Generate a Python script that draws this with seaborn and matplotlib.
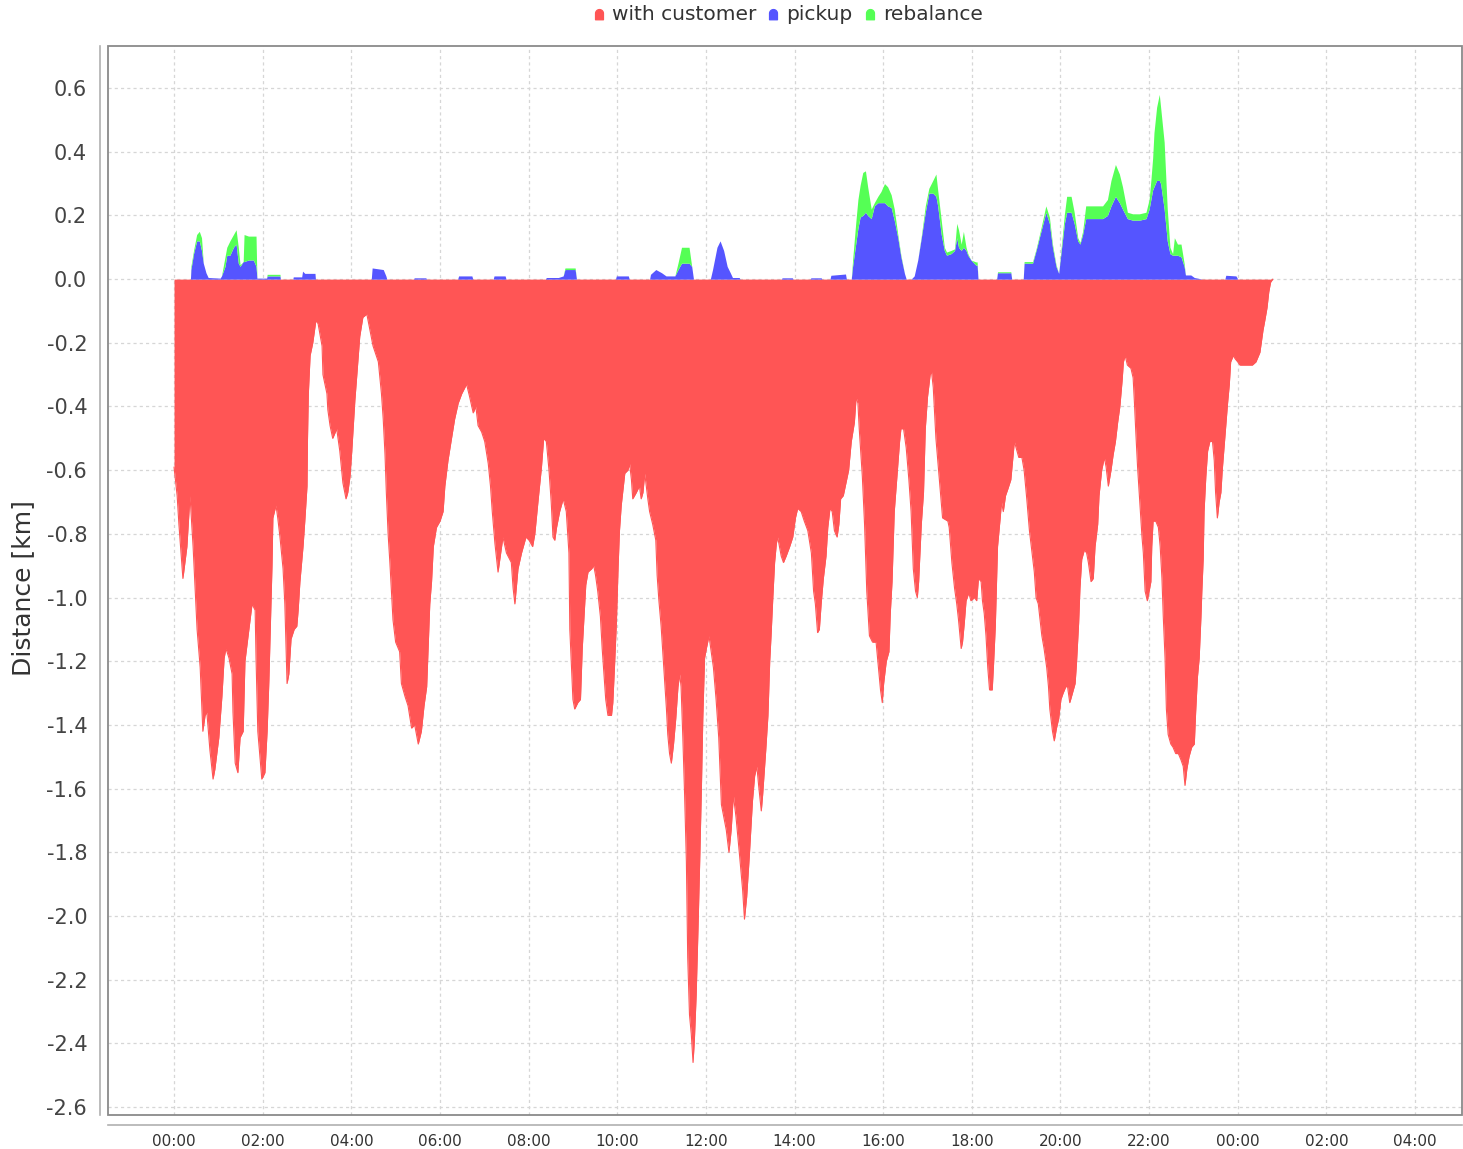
import numpy as np
import matplotlib
matplotlib.use("Agg")
import matplotlib.pyplot as plt
from matplotlib.path import Path
from matplotlib.lines import Line2D
from matplotlib.patches import Rectangle
import seaborn as sns

# distance driven per minute of the day (hours, km)
red_time = [0.00, 0.07, 0.11, 0.20, 0.29, 0.36, 0.43, 0.52, 0.59, 0.65, 0.70, 0.74, 0.81, 0.88, 0.92,
            1.01, 1.08, 1.13, 1.17, 1.24, 1.31, 1.33, 1.38, 1.44, 1.49, 1.56, 1.60, 1.67, 1.76, 1.83,
            1.85, 1.89, 1.98, 2.05, 2.10, 2.14, 2.21, 2.23, 2.30, 2.34, 2.39, 2.46, 2.50, 2.55, 2.59,
            2.64, 2.71, 2.77, 2.80, 2.84, 2.91, 2.95, 3.00, 3.01, 3.03, 3.07, 3.13, 3.20, 3.25, 3.34,
            3.36, 3.45, 3.47, 3.52, 3.58, 3.67, 3.74, 3.81, 3.88, 3.92, 3.97, 4.01, 4.08, 4.13, 4.19,
            4.26, 4.35, 4.42, 4.49, 4.61, 4.68, 4.72, 4.76, 4.79, 4.83, 4.87, 4.91, 4.94, 5.00, 5.09,
            5.13, 5.21, 5.28, 5.36, 5.43, 5.51, 5.58, 5.64, 5.70, 5.73, 5.77, 5.81, 5.85, 5.92, 6.00,
            6.07, 6.11, 6.18, 6.26, 6.33, 6.41, 6.49, 6.60, 6.67, 6.75, 6.81, 6.86, 6.94, 7.01, 7.09,
            7.14, 7.18, 7.24, 7.31, 7.37, 7.42, 7.50, 7.61, 7.65, 7.69, 7.76, 7.84, 7.94, 8.01, 8.09,
            8.14, 8.21, 8.29, 8.34, 8.40, 8.46, 8.51, 8.55, 8.59, 8.63, 8.70, 8.78, 8.85, 8.91, 8.93,
            9.00, 9.04, 9.11, 9.17, 9.21, 9.25, 9.29, 9.34, 9.42, 9.47, 9.51, 9.56, 9.62, 9.66, 9.70,
            9.74, 9.79, 9.87, 9.90, 9.94, 9.98, 10.02, 10.05, 10.09, 10.13, 10.17, 10.24, 10.28, 10.32,
            10.35, 10.43, 10.50, 10.54, 10.58, 10.62, 10.69, 10.73, 10.80, 10.87, 10.90, 10.94, 10.99,
            11.05, 11.11, 11.14, 11.18, 11.22, 11.27, 11.32, 11.37, 11.41, 11.44, 11.48, 11.52, 11.56,
            11.59, 11.63, 11.67, 11.71, 11.74, 11.78, 11.82, 11.86, 11.90, 11.93, 11.97, 12.01, 12.07,
            12.12, 12.17, 12.23, 12.29, 12.35, 12.42, 12.46, 12.52, 12.57, 12.62, 12.68, 12.76, 12.83,
            12.87, 12.92, 12.98, 13.05, 13.10, 13.15, 13.19, 13.25, 13.28, 13.35, 13.40, 13.44, 13.47,
            13.51, 13.55, 13.59, 13.62, 13.66, 13.70, 13.75, 13.81, 13.89, 13.96, 14.02, 14.07, 14.15,
            14.22, 14.30, 14.38, 14.43, 14.47, 14.52, 14.56, 14.60, 14.65, 14.71, 14.75, 14.80, 14.85,
            14.90, 14.96, 15.00, 15.04, 15.10, 15.16, 15.22, 15.28, 15.35, 15.39, 15.43, 15.46, 15.53,
            15.58, 15.63, 15.69, 15.76, 15.84, 15.90, 15.94, 15.98, 16.01, 16.07, 16.13, 16.16, 16.20,
            16.25, 16.31, 16.37, 16.40, 16.46, 16.52, 16.58, 16.63, 16.68, 16.73, 16.77, 16.80, 16.86,
            16.91, 16.95, 17.00, 17.06, 17.09, 17.13, 17.19, 17.25, 17.31, 17.34, 17.46, 17.49, 17.55,
            17.61, 17.66, 17.70, 17.76, 17.79, 17.83, 17.87, 17.92, 17.94, 17.98, 18.06, 18.11, 18.15,
            18.21, 18.24, 18.28, 18.32, 18.36, 18.40, 18.46, 18.49, 18.53, 18.58, 18.64, 18.67, 18.71,
            18.76, 18.81, 18.88, 18.92, 18.96, 19.00, 19.06, 19.13, 19.18, 19.24, 19.30, 19.36, 19.41,
            19.45, 19.50, 19.54, 19.58, 19.63, 19.69, 19.73, 19.76, 19.82, 19.86, 19.91, 19.96, 20.01,
            20.06, 20.12, 20.16, 20.21, 20.27, 20.33, 20.36, 20.41, 20.44, 20.48, 20.54, 20.59, 20.63,
            20.69, 20.74, 20.78, 20.84, 20.87, 20.93, 20.99, 21.03, 21.08, 21.14, 21.19, 21.24, 21.29,
            21.34, 21.39, 21.42, 21.46, 21.51, 21.59, 21.64, 21.67, 21.70, 21.74, 21.79, 21.84, 21.87,
            21.91, 21.96, 22.04, 22.06, 22.09, 22.15, 22.21, 22.25, 22.29, 22.32, 22.36, 22.39, 22.43,
            22.49, 22.54, 22.60, 22.66, 22.72, 22.77, 22.81, 22.85, 22.90, 22.96, 23.02, 23.05, 23.09,
            23.13, 23.17, 23.19, 23.22, 23.24, 23.28, 23.32, 23.37, 23.43, 23.47, 23.50, 23.54, 23.58,
            23.62, 23.65, 23.69, 23.73, 23.77, 23.81, 23.84, 23.90, 23.94, 24.00, 24.05, 24.18, 24.33,
            24.41, 24.44, 24.50, 24.53, 24.57, 24.61, 24.66, 24.70, 24.74, 24.79]
with_customer = [-0.59, -0.68, -0.77, -0.94, -0.84, -0.68, -0.84, -1.10, -1.22, -1.42, -1.37, -1.36, -1.48, -1.57, -1.54,
                 -1.44, -1.31, -1.19, -1.16, -1.19, -1.24, -1.36, -1.52, -1.55, -1.44, -1.42, -1.20, -1.12, -1.02, -1.04,
                 -1.19, -1.42, -1.57, -1.55, -1.42, -1.26, -0.90, -0.75, -0.71, -0.75, -0.81, -0.91, -1.02, -1.27, -1.24,
                 -1.13, -1.10, -1.09, -1.04, -0.95, -0.84, -0.76, -0.65, -0.51, -0.36, -0.24, -0.20, -0.13, -0.14, -0.21,
                 -0.30, -0.36, -0.41, -0.46, -0.50, -0.47, -0.54, -0.64, -0.69, -0.67, -0.62, -0.54, -0.38, -0.29, -0.18,
                 -0.12, -0.11, -0.16, -0.21, -0.26, -0.36, -0.44, -0.55, -0.67, -0.80, -0.89, -0.99, -1.07, -1.14, -1.17,
                 -1.27, -1.31, -1.34, -1.41, -1.40, -1.46, -1.42, -1.34, -1.28, -1.17, -1.02, -0.95, -0.84, -0.78, -0.76,
                 -0.73, -0.65, -0.57, -0.50, -0.44, -0.39, -0.36, -0.33, -0.37, -0.42, -0.40, -0.46, -0.48, -0.51, -0.58,
                 -0.65, -0.73, -0.83, -0.92, -0.86, -0.81, -0.86, -0.89, -0.97, -1.02, -0.91, -0.86, -0.81, -0.82, -0.84,
                 -0.80, -0.70, -0.59, -0.50, -0.51, -0.60, -0.70, -0.81, -0.82, -0.78, -0.73, -0.69, -0.73, -0.86, -1.10,
                 -1.32, -1.35, -1.33, -1.32, -1.16, -1.06, -0.96, -0.92, -0.91, -0.90, -0.93, -0.98, -1.06, -1.16, -1.24,
                 -1.32, -1.37, -1.37, -1.33, -1.21, -1.08, -0.90, -0.79, -0.71, -0.66, -0.61, -0.60, -0.58, -0.63,
                 -0.69, -0.67, -0.65, -0.69, -0.67, -0.61, -0.69, -0.73, -0.77, -0.82, -0.93, -1.01, -1.09,
                 -1.22, -1.35, -1.43, -1.49, -1.52, -1.46, -1.38, -1.28, -1.24, -1.28, -1.44, -1.62, -1.83,
                 -2.13, -2.31, -2.37, -2.46, -2.39, -2.25, -2.05, -1.83, -1.59, -1.38, -1.19, -1.16, -1.12,
                 -1.17, -1.22, -1.32, -1.44, -1.65, -1.70, -1.73, -1.80, -1.73, -1.62, -1.69, -1.81, -1.92,
                 -2.01, -1.94, -1.81, -1.64, -1.56, -1.53, -1.59, -1.67, -1.62, -1.48, -1.37, -1.20, -1.12,
                 -1.00, -0.89, -0.83, -0.81, -0.84, -0.87, -0.89, -0.87, -0.84, -0.81, -0.75, -0.72, -0.73,
                 -0.76, -0.79, -0.86, -0.98, -1.02, -1.11, -1.10, -1.02, -0.94, -0.87, -0.78, -0.72, -0.73,
                 -0.79, -0.81, -0.77, -0.69, -0.68, -0.64, -0.60, -0.51, -0.45, -0.37, -0.39, -0.47, -0.62,
                 -0.77, -0.98, -1.12, -1.14, -1.14, -1.23, -1.29, -1.33, -1.27, -1.20, -1.17, -1.05, -0.95,
                 -0.73, -0.62, -0.51, -0.47, -0.47, -0.53, -0.63, -0.73, -0.91, -0.98, -1.00, -0.95, -0.77,
                 -0.67, -0.47, -0.37, -0.30, -0.29, -0.34, -0.50, -0.60, -0.70, -0.75, -0.76, -0.78, -0.89,
                 -0.97, -1.02, -1.07, -1.16, -1.14, -1.08, -1.01, -0.99, -0.99, -1.01, -1.00, -1.01, -0.94,
                 -0.95, -1.01, -1.05, -1.12, -1.22, -1.29, -1.29, -1.21, -1.09, -0.84, -0.75, -0.70, -0.73,
                 -0.68, -0.66, -0.63, -0.57, -0.51, -0.53, -0.56, -0.56, -0.60, -0.69, -0.79, -0.86, -0.92,
                 -1.00, -1.02, -1.07, -1.12, -1.16, -1.22, -1.28, -1.35, -1.42, -1.45, -1.41, -1.38, -1.32,
                 -1.30, -1.28, -1.28, -1.33, -1.30, -1.27, -1.21, -1.08, -0.97, -0.88, -0.85, -0.86, -0.89,
                 -0.95, -0.94, -0.84, -0.77, -0.68, -0.60, -0.56, -0.59, -0.65, -0.60, -0.55, -0.51, -0.45,
                 -0.40, -0.32, -0.26, -0.24, -0.27, -0.28, -0.31, -0.39, -0.48, -0.59, -0.70, -0.81, -0.86,
                 -0.98, -1.01, -0.95, -0.84, -0.76, -0.76, -0.78, -0.84, -0.94, -1.06, -1.19, -1.35, -1.43,
                 -1.46, -1.47, -1.49, -1.49, -1.51, -1.53, -1.59, -1.54, -1.50, -1.47, -1.46, -1.36, -1.25,
                 -1.19, -1.06, -0.98, -0.88, -0.73, -0.62, -0.54, -0.51, -0.51, -0.57, -0.67, -0.75, -0.70,
                 -0.67, -0.60, -0.53, -0.46, -0.39, -0.33, -0.26, -0.24, -0.25, -0.26, -0.27, -0.27, -0.27,
                 -0.26, -0.25, -0.23, -0.20, -0.16, -0.13, -0.09, -0.04, -0.01, 0.00]

pos_time = [0.00, 0.37, 0.38, 0.44, 0.51, 0.57, 0.62, 0.66, 0.72, 0.77, 1.04, 1.07, 1.15, 1.19, 1.26,
            1.34, 1.40, 1.45, 1.49, 1.56, 1.58, 1.68, 1.79, 1.85, 1.87, 2.09, 2.10, 2.39, 2.40, 2.68,
            2.69, 2.88, 2.90, 2.95, 3.18, 3.19, 4.45, 4.47, 4.72, 4.78, 4.80, 5.40, 5.42, 5.68, 5.70,
            6.40, 6.42, 6.72, 6.74, 7.20, 7.22, 7.47, 7.49, 8.38, 8.40, 8.67, 8.78, 8.82, 9.05, 9.08,
            9.96, 9.98, 10.25, 10.27, 10.73, 10.75, 10.87, 11.00, 11.10, 11.30, 11.37, 11.45, 11.62, 11.68,
            11.72, 12.10, 12.15, 12.25, 12.32, 12.40, 12.48, 12.55, 12.60, 12.75, 12.77, 13.70, 13.72,
            13.95, 13.97, 14.35, 14.37, 14.60, 14.62, 14.80, 14.82, 15.15, 15.17, 15.28, 15.31, 15.38,
            15.43, 15.48, 15.54, 15.60, 15.65, 15.73, 15.80, 15.88, 15.95, 16.03, 16.10, 16.18, 16.25,
            16.33, 16.40, 16.48, 16.52, 16.63, 16.70, 16.78, 16.86, 16.95, 17.03, 17.12, 17.19, 17.23,
            17.31, 17.38, 17.43, 17.53, 17.61, 17.66, 17.70, 17.76, 17.81, 17.87, 17.91, 17.98, 18.09,
            18.12, 18.14, 18.56, 18.58, 18.88, 18.90, 19.16, 19.18, 19.37, 19.45, 19.56, 19.67, 19.75,
            19.82, 19.90, 19.96, 20.01, 20.09, 20.14, 20.24, 20.31, 20.39, 20.44, 20.50, 20.57, 20.72,
            20.95, 21.06, 21.14, 21.24, 21.33, 21.40, 21.51, 21.63, 21.78, 21.93, 22.00, 22.04, 22.08,
            22.11, 22.17, 22.23, 22.26, 22.34, 22.41, 22.47, 22.53, 22.57, 22.64, 22.72, 22.79, 22.82,
            22.94, 23.02, 23.20, 23.71, 23.73, 23.96, 24.00, 24.79]
pickup = [0, 0, 0.03, 0.08, 0.12, 0.12, 0.09, 0.05, 0.02, 0.005, 0.003, 0.01, 0.04, 0.075, 0.075,
          0.10, 0.11, 0.05, 0.04, 0.055, 0.055, 0.06, 0.06, 0.04, 0.003, 0.003, 0.01, 0.01, 0, 0,
          0.007, 0.007, 0.025, 0.018, 0.018, 0, 0, 0.035, 0.03, 0.01, 0, 0, 0.004, 0.004, 0,
          0, 0.01, 0.01, 0, 0, 0.01, 0.01, 0, 0, 0.005, 0.005, 0.01, 0.03, 0.03, 0,
          0, 0.01, 0.01, 0, 0, 0.015, 0.03, 0.02, 0.01, 0.01, 0.03, 0.05, 0.05, 0.04,
          0, 0, 0.03, 0.10, 0.12, 0.09, 0.04, 0.02, 0.005, 0.005, 0, 0, 0.004,
          0.004, 0, 0, 0.004, 0.004, 0, 0, 0.012, 0.016, 0, 0, 0.04, 0.11,
          0.16, 0.195, 0.20, 0.21, 0.20, 0.19, 0.23, 0.24, 0.24, 0.24, 0.23, 0.225, 0.185,
          0.13, 0.07, 0.018, 0, 0, 0.01, 0.06, 0.13, 0.21, 0.27, 0.27, 0.26, 0.23,
          0.14, 0.09, 0.075, 0.08, 0.09, 0.13, 0.10, 0.09, 0.10, 0.09, 0.075, 0.06, 0.044,
          0.044, 0, 0, 0.02, 0.02, 0, 0, 0.05, 0.05, 0.09, 0.15, 0.21, 0.175,
          0.10, 0.04, 0.018, 0.08, 0.175, 0.21, 0.21, 0.175, 0.12, 0.11, 0.14, 0.19, 0.19,
          0.19, 0.20, 0.23, 0.26, 0.24, 0.22, 0.19, 0.185, 0.185, 0.19, 0.22, 0.25, 0.28,
          0.29, 0.31, 0.31, 0.30, 0.22, 0.12, 0.08, 0.075, 0.075, 0.075, 0.07, 0.04, 0.013,
          0.013, 0.005, 0, 0, 0.012, 0.01, 0, 0]
rebalance = [0, 0, 0.01, 0.01, 0.02, 0.03, 0.04, 0, 0, 0, 0, 0, 0.03, 0.025, 0.045,
             0.04, 0.045, 0.05, 0.005, 0, 0.085, 0.075, 0.075, 0.095, 0, 0, 0.005, 0.005, 0, 0,
             0, 0, 0, 0, 0, 0, 0, 0, 0, 0, 0, 0, 0, 0, 0,
             0, 0, 0, 0, 0, 0, 0, 0, 0, 0, 0, 0, 0.005, 0.005, 0,
             0, 0, 0, 0, 0, 0, 0, 0, 0, 0, 0.02, 0.05, 0.05, 0,
             0, 0, 0, 0, 0, 0, 0, 0, 0, 0, 0, 0, 0,
             0, 0, 0, 0, 0, 0, 0, 0, 0, 0, 0, 0.02, 0.065,
             0.09, 0.10, 0.135, 0.13, 0.09, 0.03, 0.01, 0.02, 0.035, 0.06, 0.06, 0.04, 0.035,
             0.01, 0.005, 0, 0, 0, 0, 0, 0.005, 0.02, 0.015, 0.04, 0.07, 0.05,
             0.045, 0.01, 0.01, 0.01, 0.005, 0.045, 0.055, 0.02, 0.05, 0.01, 0.005, 0, 0.01,
             0.01, 0, 0, 0.003, 0.003, 0, 0, 0.005, 0.005, 0.005, 0.01, 0.02, 0.02,
             0.01, 0.005, 0, 0.01, 0.03, 0.05, 0.05, 0.035, 0.01, 0.005, 0.01, 0.04, 0.04,
             0.04, 0.05, 0.08, 0.10, 0.09, 0.07, 0.02, 0.02, 0.02, 0.02, 0.03, 0.06, 0.10,
             0.17, 0.23, 0.27, 0.24, 0.21, 0.10, 0.02, 0.005, 0.055, 0.035, 0.04, 0.01, 0,
             0, 0, 0, 0, 0, 0, 0, 0]

tick_hours = list(range(0, 29, 2))
tick_labels = ["00:00", "02:00", "04:00", "06:00", "08:00", "10:00", "12:00", "14:00",
               "16:00", "18:00", "20:00", "22:00", "00:00", "02:00", "04:00"]
y_ticks = [0.6, 0.4, 0.2, 0.0, -0.2, -0.4, -0.6, -0.8, -1.0, -1.2, -1.4, -1.6, -1.8,
           -2.0, -2.2, -2.4, -2.6]

sns.set_style("white")
plt.rcParams["font.family"] = ["DejaVu Sans"]
plt.rcParams["axes.unicode_minus"] = False

red, blue, green = "#FF5555", "#5555FF", "#55FF55"

fig = plt.figure(figsize=(14.63, 11.49), dpi=100)
ax = fig.add_axes([108 / 1463, 1 - 1115 / 1149, (1462 - 108) / 1463, (1115 - 46) / 1149])

ax.fill_between(red_time, with_customer, 0, color=red, linewidth=0, zorder=2)
sns.lineplot(x=red_time, y=with_customer, color=red, linewidth=0.8, estimator=None,
             sort=False, ax=ax, zorder=2)
ax.stackplot(pos_time, pickup, rebalance, colors=[blue, green], linewidth=0, zorder=2)

ax.set_xlim(-1.49, 29.06)
ax.set_ylim(-2.625, 0.732)
ax.set_xticks(tick_hours)
ax.set_xticklabels(tick_labels)
ax.set_yticks(y_ticks)
ax.set_yticklabels([f"{v:.1f}" for v in y_ticks])

ax.set_axisbelow(True)
ax.grid(True, color="#d6d6d6", linestyle=(0, (2.5, 2.5)), linewidth=0.9)

# JFreeChart-like frame: plot outline plus offset axis lines
for s in ["top", "right"]:
    ax.spines[s].set_visible(False)
ax.spines["left"].set_position(("outward", 6))
ax.spines["bottom"].set_position(("outward", 7))
for s in ["left", "bottom"]:
    ax.spines[s].set_color("#b0b0b0")
    ax.spines[s].set_linewidth(1.2)
ax.add_patch(Rectangle((0, 0), 1, 1, transform=ax.transAxes, fill=False,
                       edgecolor="#8a8a8a", linewidth=1.3, clip_on=False, zorder=5))

ax.tick_params(axis="y", direction="out", length=4, width=1, color="#b0b0b0",
               labelsize=15, labelcolor="#444444", pad=5)
ax.tick_params(axis="x", direction="out", length=4, width=1, color="#b0b0b0",
               labelsize=11, labelcolor="#333333", pad=3)
ax.set_xlabel("")
ax.set_ylabel("Distance [km]", fontsize=18, color="#333333")
ax.yaxis.set_label_coords(-0.054, 0.493)

# legend glyph: flat bottom, straight sides, rounded top
theta = np.linspace(0, np.pi, 24)
verts = [(1, -1.6), (1, 0)] + list(zip(np.cos(theta), np.sin(theta))) + [(-1, -1.6), (1, -1.6)]
codes = [Path.MOVETO] + [Path.LINETO] * (len(verts) - 2) + [Path.CLOSEPOLY]
bell = Path(verts, codes)
handles = [Line2D([], [], linestyle="none", marker=bell, markersize=9,
                  markerfacecolor=c, markeredgecolor=c) for c in (red, blue, green)]
fig.legend(handles, ["with customer", "pickup", "rebalance"], loc="upper center",
           bbox_to_anchor=(0.538, 1.011), ncol=3, frameon=False, fontsize=14.5,
           handlelength=0.7, handletextpad=0.3, columnspacing=0.5, labelcolor="#333333")

fig.savefig("out.png", dpi=100)
